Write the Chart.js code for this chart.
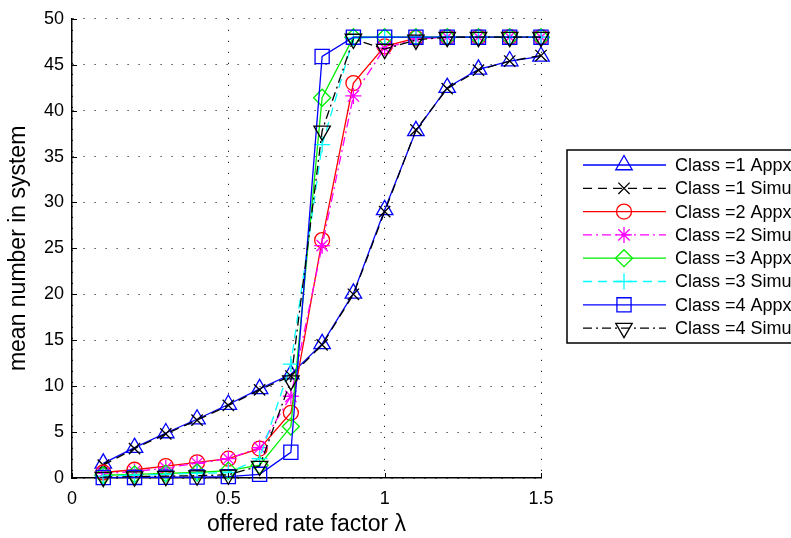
<!DOCTYPE html>
<html>
<head>
<meta charset="utf-8">
<script src="https://cdn.jsdelivr.net/npm/chart.js@4/dist/chart.umd.min.js"></script>
<style>
  body { margin: 0; background: #fff; }
</style>
</head>
<body>
<canvas id="mycanvas" width="791" height="538"></canvas>
<script>
// offered rate factor (x values)
var lambdas = [0.1, 0.2, 0.3, 0.4, 0.5, 0.6, 0.7, 0.8, 0.9, 1.0, 1.1, 1.2, 1.3, 1.4, 1.5];

// mean number in system
var class1Appx = [1.6, 3.3, 4.9, 6.4, 8.0, 9.7, 11.3, 14.6, 20.1, 29.2, 37.8, 42.5, 44.5, 45.4, 45.9];
var class1Simu = [1.4, 3.2, 4.8, 6.3, 7.9, 9.6, 11.1, 14.5, 20.0, 29.0, 37.9, 42.4, 44.4, 45.4, 46.0];
var class2Appx = [0.6, 0.9, 1.3, 1.7, 2.1, 3.2, 7.1, 25.9, 43.0, 47.0, 47.9, 48, 48, 48, 48];
var class2Simu = [0.5, 0.7, 1.1, 1.6, 2.1, 3.3, 8.9, 25.3, 41.6, 46.8, 47.8, 48, 48, 48, 48];
var class3Appx = [0.3, 0.4, 0.5, 0.6, 0.8, 1.4, 5.6, 41.4, 48, 48, 48, 48, 48, 48, 48];
var class3Simu = [0.2, 0.3, 0.4, 0.5, 0.6, 2.1, 12.4, 36.3, 47.9, 48, 48, 48, 48, 48, 48];
var class4Appx = [0.05, 0.06, 0.08, 0.1, 0.15, 0.4, 2.8, 45.9, 48, 48, 48, 48, 48, 48, 48];
var class4Simu = [0.1, 0.15, 0.2, 0.25, 0.35, 1.3, 10.6, 37.8, 47.8, 46.7, 47.7, 48, 48, 48, 48];

var seriesNames = ['Class =1 Appx', 'Class =1 Simu', 'Class =2 Appx', 'Class =2 Simu',
                   'Class =3 Appx', 'Class =3 Simu', 'Class =4 Appx', 'Class =4 Simu'];
var seriesValues = [class1Appx, class1Simu, class2Appx, class2Simu,
                    class3Appx, class3Simu, class4Appx, class4Simu];

var yTicks = [0, 5, 10, 15, 20, 25, 30, 35, 40, 45, 50];
var xTicks = [0, 0.5, 1, 1.5];

var FONT = '"Liberation Sans", Arial, Helvetica, sans-serif';

// matlab-ish line specs
var DASH = [9, 6];
var DASHDOT = [9, 4, 2, 4];
var styles = [
  { color: '#0000ff', dash: [],      point: 'triangle', r: 9.5, rot: 0 },
  { color: '#000000', dash: DASH,    point: 'crossRot', r: 8,   rot: 0 },
  { color: '#ff0000', dash: [],      point: 'circle',   r: 7.5, rot: 0 },
  { color: '#ff00ff', dash: DASHDOT, point: 'star',     r: 8,   rot: 0 },
  { color: '#00ee00', dash: [],      point: 'rectRot',  r: 8.5, rot: 0 },
  { color: '#00ffff', dash: DASH,    point: 'cross',    r: 8,   rot: 0 },
  { color: '#0000ff', dash: [],      point: 'rect',     r: 10,  rot: 0 },
  { color: '#000000', dash: DASHDOT, point: 'triangle', r: 9.5, rot: 180 }
];

var datasets = seriesValues.map(function(vals, i) {
  var s = styles[i];
  return {
    label: seriesNames[i],
    data: lambdas.map(function(x, j) { return { x: x, y: vals[j] }; }),
    borderColor: s.color,
    borderWidth: 1.3,
    borderDash: s.dash,
    backgroundColor: 'rgba(0,0,0,0)',
    pointStyle: s.point,
    pointRadius: s.r,
    pointRotation: s.rot,
    pointBorderColor: s.color,
    pointBackgroundColor: 'rgba(0,0,0,0)',
    pointBorderWidth: 1.3,
    tension: 0,
    clip: false,
    order: seriesValues.length - i   // later series drawn on top, like matlab
  };
});

// matlab puts its tick marks inside the axes
var innerTicks = {
  id: 'innerTicks',
  afterDraw: function(chart) {
    var ctx = chart.ctx, a = chart.chartArea;
    var xs = chart.scales.x, ys = chart.scales.y;
    ctx.save();
    ctx.strokeStyle = '#000';
    ctx.lineWidth = 1;
    ctx.beginPath();
    xTicks.forEach(function(v) {
      var px = Math.round(xs.getPixelForValue(v)) + 0.5;
      ctx.moveTo(px, a.bottom);
      ctx.lineTo(px, a.bottom - 5);
    });
    yTicks.forEach(function(v) {
      var py = Math.round(ys.getPixelForValue(v)) + 0.5;
      ctx.moveTo(a.left, py);
      ctx.lineTo(a.left + 5, py);
    });
    ctx.stroke();
    ctx.restore();
  }
};

// legend box drawn by hand so the line styles show next to the markers
var legendBox = {
  id: 'legendBox',
  afterDraw: function(chart) {
    var ctx = chart.ctx;
    ctx.save();
    ctx.fillStyle = '#fff';
    ctx.fillRect(567, 150, 260, 193);
    ctx.lineWidth = 1.5;
    ctx.strokeStyle = '#000';
    ctx.setLineDash([]);
    ctx.strokeRect(567, 150, 260, 193);
    chart.data.datasets.forEach(function(ds, i) {
      var y = 165 + i * 23.3;
      ctx.setLineDash(ds.borderDash);
      ctx.strokeStyle = ds.borderColor;
      ctx.lineWidth = ds.borderWidth;
      ctx.beginPath();
      ctx.moveTo(583, y);
      ctx.lineTo(666, y);
      ctx.stroke();
      ctx.setLineDash([]);
      ctx.fillStyle = 'rgba(0,0,0,0)';
      ctx.lineWidth = ds.pointBorderWidth;
      Chart.helpers.drawPoint(ctx, {
        pointStyle: ds.pointStyle,
        radius: ds.pointRadius,
        rotation: ds.pointRotation,
        borderWidth: ds.pointBorderWidth
      }, 624, y);
      ctx.fillStyle = '#000';
      ctx.font = '18px ' + FONT;
      ctx.textBaseline = 'middle';
      ctx.textAlign = 'left';
      ctx.fillText(ds.label, 675, y + 1);
    });
    ctx.restore();
  }
};

new Chart(document.getElementById('mycanvas'), {
  type: 'line',
  data: { datasets: datasets },
  plugins: [innerTicks, legendBox],
  options: {
    responsive: false,
    animation: false,
    layout: { padding: { top: 15, right: 250, left: 0, bottom: 0 } },
    plugins: {
      legend: { display: false },
      tooltip: { enabled: false }
    },
    scales: {
      x: {
        type: 'linear',
        min: 0,
        max: 1.5,
        afterFit: function(scale) { scale.height = 60; },
        afterBuildTicks: function(scale) {
          scale.ticks = xTicks.map(function(v) { return { value: v }; });
        },
        ticks: {
          color: '#000', padding: 10, maxRotation: 0,
          font: { family: FONT, size: 18 },
          callback: function(v) { return String(v); }
        },
        grid: { color: '#222', lineWidth: 1, drawTicks: false },
        border: { display: true, color: '#000', width: 1.5, dash: [1.2, 9.8] },
        title: {
          display: true,
          text: 'offered rate factor λ',
          color: '#000',
          font: { family: FONT, size: 23 },
          padding: { top: 0, bottom: 0 }
        }
      },
      y: {
        type: 'linear',
        min: 0,
        max: 50,
        afterFit: function(scale) { scale.width = 72; },
        afterBuildTicks: function(scale) {
          scale.ticks = yTicks.map(function(v) { return { value: v }; });
        },
        ticks: { color: '#000', padding: 8, font: { family: FONT, size: 18 } },
        grid: { color: '#222', lineWidth: 1, drawTicks: false },
        border: { display: true, color: '#000', width: 1.5, dash: [1.2, 9.8] },
        title: {
          display: true,
          text: 'mean number in system',
          color: '#000',
          font: { family: FONT, size: 23 },
          padding: { top: 5, bottom: 0 }
        }
      }
    }
  }
});
</script>
</body>
</html>
